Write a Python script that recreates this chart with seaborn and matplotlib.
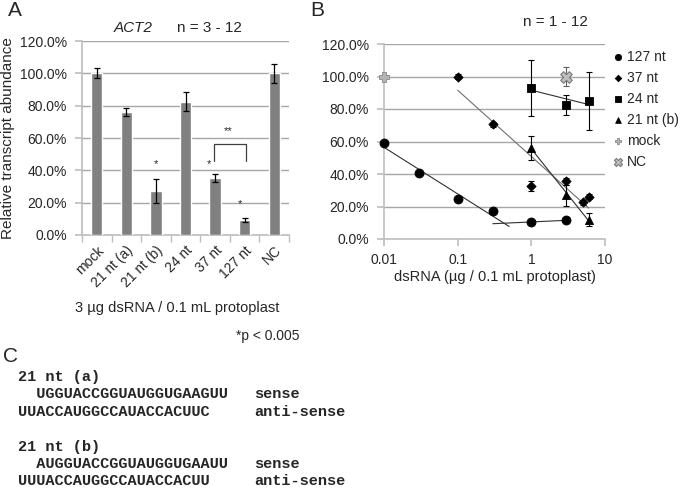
import numpy as np
import pandas as pd
import matplotlib
matplotlib.use("Agg")
import matplotlib.pyplot as plt
import seaborn as sns

# ---------------- data ----------------
# Panel A
cats_a = ["mock", "21 nt (a)", "21 nt (b)", "24 nt", "37 nt", "127 nt", "NC"]
vals_a = [1.00, 0.76, 0.27, 0.825, 0.35, 0.095, 1.00]
errs_a = [0.03, 0.025, 0.075, 0.06, 0.025, 0.012, 0.06]
yticks_a = [0.0, 0.2, 0.4, 0.6, 0.8, 1.0, 1.2]

# Panel B
dose_127 = [0.01, 0.03, 0.1, 0.3, 1, 3]
val_127 = [0.59, 0.405, 0.245, 0.17, 0.105, 0.115]
err_127 = [0.0, 0.0, 0.0, 0.0, 0.0, 0.0]

dose_37 = [0.1, 0.3, 1, 3, 5, 6]
val_37 = [1.00, 0.705, 0.325, 0.355, 0.225, 0.26]
err_37 = [0.015, 0.015, 0.03, 0.02, 0.015, 0.015]

dose_24 = [1, 3, 6]
val_24 = [0.93, 0.825, 0.85]
err_24 = [0.17, 0.06, 0.18]

dose_21b = [1, 3, 6]
val_21b = [0.56, 0.27, 0.12]
err_21b = [0.075, 0.065, 0.04]

dose_mock = [0.01]
val_mock = [1.00]
err_mock = [0.01]

dose_nc = [3]
val_nc = [1.00]
err_nc = [0.06]

xticks_b = [0.01, 0.1, 1, 10]
xticklabels_b = ["0.01", "0.1", "1", "10"]

seq_lines = [
    ("21 nt (a)", ""),
    ("  UGGUACCGGUAUGGUGAAGUU", "sense"),
    ("UUACCAUGGCCAUACCACUUC", "anti-sense"),
    ("21 nt (b)", ""),
    ("  AUGGUACCGGUAUGGUGAAUU", "sense"),
    ("UUUACCAUGGCCAUACCACUU", "anti-sense"),
]
seq_y = [377, 394.5, 412, 447, 464.5, 481]

# ---------------- style ----------------
sns.set_theme(style="white")
plt.rcParams['font.family'] = ['Liberation Sans', 'DejaVu Sans']
FS = 10
GRID = "#a6a6a6"
SPINE = "#bfbfbf"

W, H = 685, 488
fig = plt.figure(figsize=(W / 100, H / 100), dpi=100)


def ax_px(left, top, right, bottom):
    return fig.add_axes([left / W, 1 - bottom / H, (right - left) / W, (bottom - top) / H])


def fx(x):
    return x / W


def fy(y):
    return 1 - y / H


pct = lambda v: f"{v*100:.1f}%"

# ---------------- Panel A ----------------
axA = ax_px(82, 41, 289, 235)
dfA = pd.DataFrame({"cat": cats_a, "val": vals_a})
sns.barplot(data=dfA, x="cat", y="val", color="#808080", saturation=1,
            width=0.38, errorbar=None, ax=axA, zorder=3)
axA.errorbar(np.arange(len(cats_a)), vals_a, yerr=errs_a, fmt="none",
             ecolor="black", elinewidth=0.9, capsize=2.5, capthick=0.9, zorder=4)
axA.set_ylim(0, 1.2)
axA.set_xlim(-0.5, len(cats_a) - 0.5)
axA.set_yticks(yticks_a)
axA.set_yticklabels([pct(v) for v in yticks_a], fontsize=FS)
axA.yaxis.grid(True, color=GRID, lw=1, zorder=0)
axA.set_axisbelow(True)
axA.set_xticks(np.arange(len(cats_a)))
axA.set_xticklabels(cats_a, rotation=45, ha="right", rotation_mode="anchor", fontsize=FS)
axA.tick_params(axis="x", length=0, pad=6)
axA.set_xticks(np.arange(len(cats_a) + 1) - 0.5, minor=True)
axA.tick_params(axis="x", which="minor", length=5, color=SPINE, direction="out", bottom=True)
axA.tick_params(axis="y", length=5, color=SPINE, direction="out", left=True, pad=6)
for s in ["top", "right"]:
    axA.spines[s].set_visible(False)
for s in ["left", "bottom"]:
    axA.spines[s].set_color(SPINE)
axA.set_xlabel("")
axA.set_ylabel("Relative transcript abundance", fontsize=11, labelpad=3)

# significance marks
axA.text(2, 0.44, "*", ha="center", va="center", fontsize=8)
axA.text(3.8, 0.44, "*", ha="center", va="center", fontsize=8)
axA.text(4.85, 0.19, "*", ha="center", va="center", fontsize=8)
axA.plot([3.95, 3.95, 5.05, 5.05], [0.46, 0.56, 0.56, 0.46], color="#404040", lw=0.9)
axA.text(4.45, 0.64, "**", ha="center", va="center", fontsize=8)

fig.text(fx(114), fy(28), "ACT2", fontsize=11, style="italic", ha="left", va="center")
fig.text(fx(177), fy(28), "n = 3 - 12", fontsize=11, ha="left", va="center")
fig.text(fx(177), fy(308), "3 µg dsRNA / 0.1 mL protoplast", fontsize=10.5, ha="center", va="center")
fig.text(fx(300), fy(336), "*p < 0.005", fontsize=10, ha="right", va="center")

# ---------------- Panel B ----------------
axB = ax_px(384, 44, 605, 239)
axB.set_xscale("log")
axB.set_xlim(0.01, 10)
axB.set_ylim(0, 1.2)
axB.set_yticks(yticks_a)
axB.set_yticklabels([pct(v) for v in yticks_a], fontsize=FS)
axB.set_xticks(xticks_b)
axB.set_xticklabels(xticklabels_b, fontsize=FS)
axB.xaxis.set_minor_locator(matplotlib.ticker.NullLocator())
axB.yaxis.grid(True, color=GRID, lw=1, zorder=0)
axB.set_axisbelow(True)
axB.tick_params(axis="both", length=5, color=SPINE, direction="out", bottom=True, left=True, pad=6)
axB.tick_params(axis="x", pad=5)
for s in ["top", "right"]:
    axB.spines[s].set_visible(False)
for s in ["left", "bottom"]:
    axB.spines[s].set_color(SPINE)
    axB.spines[s].set_linewidth(1.2)
axB.set_xlabel("dsRNA (µg / 0.1 mL protoplast)", fontsize=10.5, labelpad=2)


def trend(xs, ys, x0, x1, color, idx=None):
    xs = np.asarray(xs, float)
    ys = np.asarray(ys, float)
    if idx is not None:
        xs, ys = xs[idx], ys[idx]
    k, b = np.polyfit(np.log10(xs), ys, 1)
    xx = np.array([x0, x1])
    axB.plot(xx, k * np.log10(xx) + b, color=color, lw=0.8, zorder=2)


trend(dose_127, val_127, 0.01, 0.5, "#303030", idx=slice(0, 4))
trend(dose_127, val_127, 0.3, 3, "#303030", idx=slice(4, 6))
trend(dose_37, val_37, 0.1, 6, "#707070")
trend(dose_24, val_24, 1, 6, "#303030")
trend(dose_21b, val_21b, 1, 6, "#303030")

series = [
    ("127 nt", dose_127, val_127, err_127, "o", "black", "black", 42, 0.6),
    ("37 nt", dose_37, val_37, err_37, "D", "black", "black", 22, 0.6),
    ("24 nt", dose_24, val_24, err_24, "s", "black", "black", 32, 0.6),
    ("21 nt (b)", dose_21b, val_21b, err_21b, "^", "black", "black", 34, 0.6),
    ("mock", dose_mock, val_mock, err_mock, "P", "#b5b5b5", "#8a8a8a", 45, 0.6),
    ("NC", dose_nc, val_nc, err_nc, "X", "#bdbdbd", "#7a7a7a", 70, 0.8),
]
for name, xs, ys, es, mk, col, ec, sz, lw in series:
    axB.errorbar(xs, ys, yerr=es, fmt="none", ecolor="black" if col == "black" else "#606060",
                 elinewidth=0.8, capsize=2.5, capthick=0.8, zorder=3)
    sns.scatterplot(x=xs, y=ys, marker=mk, color=col, s=sz, edgecolor=ec,
                    linewidth=lw, ax=axB, zorder=4, label=name, clip_on=False)

leg = axB.legend(loc="upper left", bbox_to_anchor=(fx(612), fy(50)), bbox_transform=fig.transFigure,
                 frameon=False, fontsize=10, handletextpad=0.3, labelspacing=0.5,
                 borderaxespad=0, borderpad=0, handlelength=0.8, markerscale=0.7)

fig.text(fx(555), fy(22), "n = 1 - 12", fontsize=11, ha="center", va="center")

# ---------------- panel labels ----------------
fig.text(fx(8), fy(11), "A", fontsize=15, ha="left", va="center")
fig.text(fx(310), fy(11), "B", fontsize=15, ha="left", va="center")
fig.text(fx(3), fy(356), "C", fontsize=15, ha="left", va="center")

# ---------------- Panel C ----------------
mono = ["Liberation Mono", "DejaVu Sans Mono"]
for (seq, lab), y in zip(seq_lines, seq_y):
    if seq:
        fig.text(fx(18), fy(y), seq, family=mono, fontweight="bold",
                 fontsize=11, ha="left", va="center")
    if lab:
        fig.text(fx(254), fy(y), lab, family=mono, fontweight="bold",
                 fontsize=11, ha="left", va="center")

fig.savefig("out.png", dpi=100)
